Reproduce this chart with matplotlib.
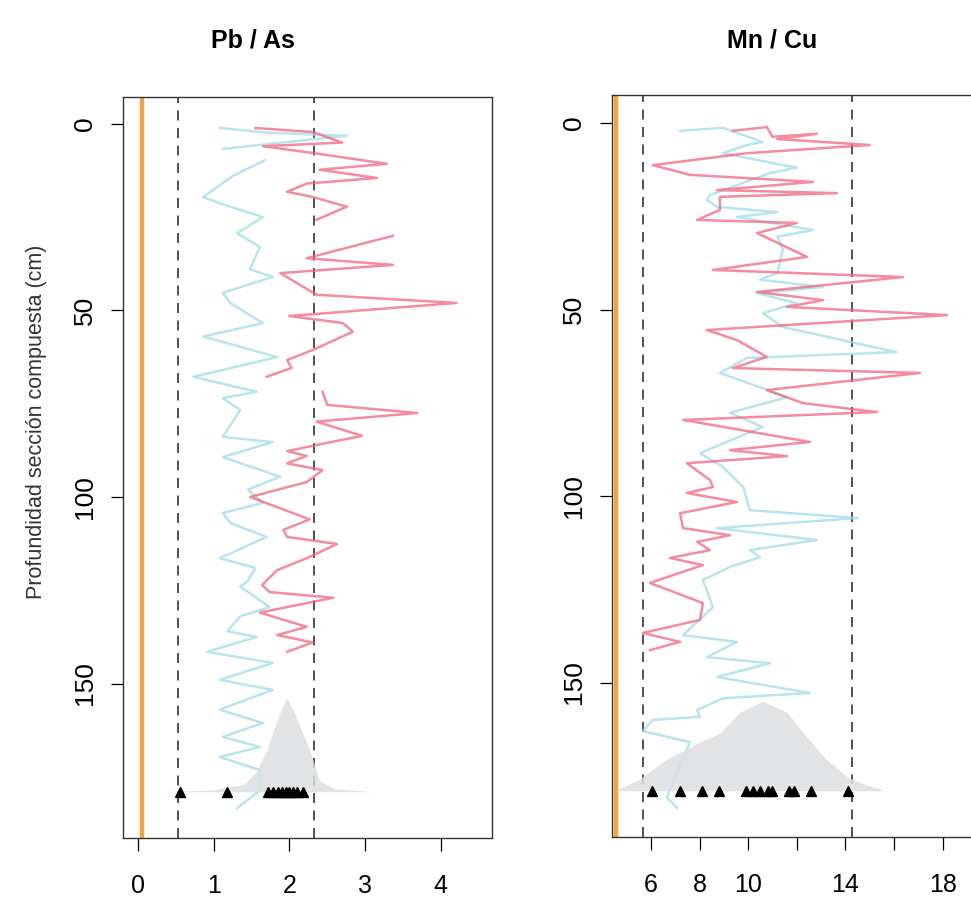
import numpy as np
import matplotlib
matplotlib.use('Agg')
import matplotlib.pyplot as plt
from matplotlib import font_manager

# ---- data ----
# Pb / As
pa_red_d = [1.1, 2.2, 5, 6, 7.8, 10.7, 12.3, 14.5, 16, 18.2, 19.6, 22.2, 25.7, np.nan,
            30, 36, 37.8, 40, 45.8, 48, 51.5, 53.4, 55.7, 60.6, 63.3, 65.4, 67.8, np.nan,
            71.8, 75.3, 77.5, 79.8, 83.6, 87.7, 89, 91, 92.8, 96, 100, 106, 108.8, 110.7,
            112.6, 116.4, 119.6, 123.6, 125.5, 127, 131, 134.8, 137, 139, 141.5]
pa_red_x = [1.55, 2.31, 2.7, 1.65, 2.31, 3.29, 2.4, 3.16, 2.23, 1.97, 2.31, 2.76, 2.36, np.nan,
            3.37, 2.23, 3.37, 1.88, 2.36, 4.21, 2.0, 2.71, 2.84, 2.31, 1.97, 2.03, 1.70, np.nan,
            2.44, 2.5, 3.69, 2.36, 2.96, 1.97, 2.23, 1.97, 2.44, 2.23, 1.48, 2.27, 1.92, 1.97,
            2.63, 2.23, 1.84, 1.64, 1.74, 2.58, 1.61, 2.23, 1.84, 2.31, 1.97]

pa_blue_d = [1.1, 2.4, 3.2, 6.7, np.nan, 9.7, 14, 19.6, 21.3, 25, 29.3, 33, 39, 41, 45.3, 48,
             53.4, 57, 62.5, 67.8, 71.8, 73.5, 76.7, 83.9, 85.3, 89.3, 94.6, 98, 101.6, 104.3,
             107, 110.7, 116.4, 119, 122.8, 124, 129.5, 132, 136, 137.5, 141.5, 144.5, 149,
             151.7, 157, 160.6, 164.3, 167, 169.7, 173.2, 178.6, 183.4]
pa_blue_x = [1.08, 1.74, 2.76, 1.12, np.nan, 1.68, 1.25, 0.86, 1.08, 1.65, 1.31, 1.61, 1.48, 1.78,
             1.12, 1.22, 1.65, 0.86, 1.84, 0.73, 1.57, 1.12, 1.35, 1.12, 1.78, 1.12, 1.88, 1.45,
             1.65, 1.12, 1.22, 1.70, 1.08, 1.55, 1.44, 1.35, 1.74, 1.35, 1.18, 1.57, 0.91, 1.78,
             1.08, 1.78, 1.08, 1.65, 1.12, 1.61, 1.08, 1.61, 1.61, 1.31]

pa_dens_x = [0.3, 1.0, 1.4, 1.55, 1.7, 1.8, 1.9, 1.97, 2.05, 2.15, 2.27, 2.4, 2.6, 3.1]
pa_dens_h = [0, 0.5, 2, 5, 11, 17, 22.5, 25, 22, 17, 11, 3, 0.8, 0]
pa_tri = [0.55, 1.17, 1.72, 1.78, 1.85, 1.9, 1.95, 2.0, 2.05, 2.1, 2.18]
pa_limits = [0.53, 2.32]
pa_ref = 0.05

# Mn / Cu
mc_red_d = [2.1, 1.1, 3.7, 2.9, 4.3, 5.9, 8.1, 11.3, 13.9, 15.8, 18, 18.8, 19.8, 23.3, 26,
            26.8, 29.5, 35.9, 39.4, 41.3, 45.3, 47.5, 49.3, 51.5, 55.5, 58.2, 62.7, 65.7, 67,
            71.6, 75.1, 77.5, 79.6, 85.5, 87.7, 89.3, 91.2, 95.7, 97.6, 99.2, 101.6, 104.6,
            108.6, 110.5, 112.3, 114.5, 116.6, 118.5, 123.3, 128.7, 133.2, 136.7, 139.1, 141.3]
mc_red_x = [9.37, 10.77, 11.0, 12.83, 11.2, 15.0, 9.95, 6.08, 7.6, 12.67, 8.72, 13.65, 8.84,
            8.84, 7.9, 12.0, 10.36, 12.42, 8.55, 16.37, 10.36, 13.08, 11.6, 18.18, 8.3, 9.54,
            10.77, 9.37, 17.07, 10.77, 12.26, 15.3, 7.32, 12.54, 9.25, 11.6, 7.48, 8.43, 8.55,
            7.48, 9.54, 7.2, 7.32, 9.25, 7.9, 8.43, 6.78, 8.14, 5.96, 8.14, 8.02, 5.67, 7.2, 5.96]

mc_blue_d = [2.1, 1.3, 5.1, 5.9, 8.1, 12, 13.4, 19.3, 20.6, 22.5, 23.9, 25.2, 28.7, 30.5, 34,
             40.2, 42, 44, 45.6, 48.3, 51, 54.7, 61.4, 63, 67, 73.5, 77.7, 81.5, 88.5, 92.2,
             97.6, 103.8, 105.9, 108.6, 111.8, 114.5, 116.4, 119, 122.5, 129.8, 137.3, 139.1,
             143.2, 144.8, 148.5, 152.8, 154.2, 157.4, 159.2, 160, 163, 166, 180.7, 183.6]
mc_blue_x = [7.2, 8.96, 10.6, 9.95, 8.96, 12.0, 10.9, 8.43, 8.3, 8.72, 11.2, 9.54, 12.67, 11.2,
             11.43, 11.2, 10.49, 13.08, 10.36, 12.0, 10.6, 11.43, 16.1, 9.95, 8.84, 11.6, 9.25,
             10.6, 8.02, 8.96, 9.8, 10.07, 14.5, 8.72, 12.83, 10.07, 10.49, 9.25, 8.14, 8.55,
             7.32, 9.54, 8.3, 10.9, 8.72, 12.54, 8.96, 7.9, 8.02, 6.08, 5.67, 7.6, 6.66, 7.07]

mc_dens_x = [4.6, 5.5, 6.66, 8.0, 8.85, 9.66, 10.6, 11.6, 12.4, 13.2, 14.1, 14.9, 15.5]
mc_dens_h = [0.3, 3, 8.5, 13, 15.5, 21, 24, 21, 14.5, 8.5, 3.6, 1.5, 0.3]
mc_tri = [6.04, 7.2, 8.1, 8.8, 9.9, 10.2, 10.5, 10.8, 11.0, 11.7, 11.9, 12.6, 14.1]
mc_limits = [5.67, 14.27]
mc_ref = 4.55

tri_depth = 179
depth_ticks = [0, 50, 100, 150]

# ---- fonts ----
names = {f.name for f in font_manager.fontManager.ttflist}
narrow = 'Liberation Sans Narrow' if 'Liberation Sans Narrow' in names else 'Liberation Sans'
plt.rcParams['font.family'] = ['Liberation Sans', 'DejaVu Sans']

fig = plt.figure(figsize=(9.71, 8.99), dpi=100)
W, H = 971, 899


def panel(rect, red_x, red_d, blue_x, blue_d, dens_x, dens_h, tri, limits, ref,
          xlim, ylim, xticks, xlabels):
    ax = fig.add_axes([rect[0] / W, 1 - rect[3] / H, (rect[2] - rect[0]) / W,
                       (rect[3] - rect[1]) / H])
    ax.axvline(ref, color='#f2a445', lw=3.2, zorder=1)
    for v in limits:
        ax.axvline(v, color='#333333', lw=1.2, ls=(0, (6, 4.5)), zorder=2)
    ax.plot(blue_x, blue_d, color='#9adbe6', lw=1.8, alpha=0.7, zorder=3)
    ax.plot(red_x, red_d, color='#f2647f', lw=1.8, alpha=0.75, zorder=4)
    ax.fill_between(dens_x, tri_depth, tri_depth - np.array(dens_h),
                    color='#dcdfe0', alpha=0.85, lw=0, zorder=5)
    ax.plot(tri, [tri_depth] * len(tri), ls='none', marker='^', ms=7,
            color='black', zorder=6)
    ax.set_xlim(*xlim)
    ax.set_ylim(*ylim)
    ax.set_xticks(xticks)
    ax.set_xticklabels(xlabels, fontfamily=narrow, fontsize=18)
    ax.set_yticks(depth_ticks)
    ax.set_yticklabels([str(t) for t in depth_ticks], fontsize=19, rotation=90,
                       va='center', ha='right')
    ax.tick_params(axis='x', direction='out', length=9, width=0.9, pad=17)
    ax.tick_params(axis='y', direction='out', length=9, width=0.9, pad=10)
    for s in ax.spines.values():
        s.set_color('#333333')
        s.set_linewidth(1.0)
    return ax


panel((123, 97, 492, 838), pa_red_x, pa_red_d, pa_blue_x, pa_blue_d, pa_dens_x, pa_dens_h,
      pa_tri, pa_limits, pa_ref, (-0.2, 4.68), (191.4, -7.2),
      [0, 1, 2, 3, 4], ['0', '1', '2', '3', '4'])
panel((612, 95, 1000, 837), mc_red_x, mc_red_d, mc_blue_x, mc_blue_d, mc_dens_x, mc_dens_h,
      mc_tri, mc_limits, mc_ref, (4.4, 20.36), (191.4, -7.5),
      [6, 8, 10, 12, 14, 16, 18], ['6', '8', '10', '', '14', '', '18'])

fig.text(253 / W, 1 - 40 / H, 'Pb / As', fontfamily=narrow, fontweight='bold',
         fontsize=18, ha='center', va='center')
fig.text(772 / W, 1 - 40 / H, 'Mn / Cu', fontfamily=narrow, fontweight='bold',
         fontsize=18, ha='center', va='center')
fig.text(37 / W, 1 - 422 / H, 'Profundidad sección compuesta (cm)', fontsize=15.5,
         rotation=90, ha='center', va='center', color='#333333')

fig.savefig('out.png', dpi=100)
